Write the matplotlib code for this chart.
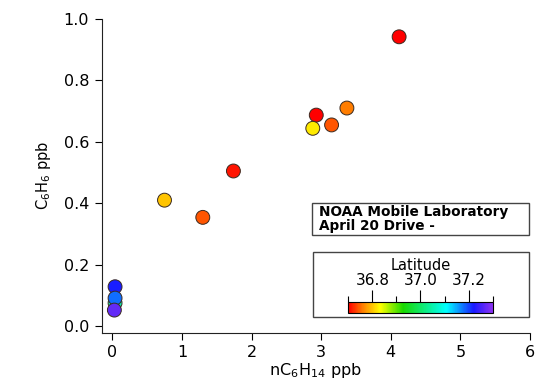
import matplotlib
matplotlib.use("Agg")
import matplotlib.pyplot as plt
from matplotlib.colors import LinearSegmentedColormap, Normalize
from matplotlib.patches import Rectangle
import matplotlib.cm as cm

# hexane vs benzene, coloured by latitude
hexane = [0.04, 0.04, 0.04, 0.03, 0.75, 1.30, 1.74, 2.93, 2.88, 3.15, 3.37, 4.12]
benzene = [0.075, 0.128, 0.091, 0.052, 0.410, 0.354, 0.505, 0.687, 0.644, 0.655, 0.710, 0.942]
latitude = [37.05, 37.22, 37.18, 37.27, 36.80, 36.74, 36.71, 36.70, 36.82, 36.74, 36.76, 36.70]

lat_ticks = [36.8, 37.0, 37.2]
lat_range = (36.7, 37.3)

rainbow = LinearSegmentedColormap.from_list(
    "igor_rainbow",
    [(0.0, (1, 0, 0)), (0.1, (1, 0.5, 0)), (0.22, (1, 1, 0)),
     (0.38, (0.1, 0.85, 0)), (0.68, (0, 1, 1)), (0.87, (0.1, 0.1, 1)),
     (1.0, (0.55, 0.2, 0.95))])
norm = Normalize(*lat_range)

plt.rcParams['font.family'] = ['DejaVu Sans']
fig = plt.figure(figsize=(5.37, 3.83), dpi=100)
W, H = 537, 383

ax = fig.add_axes([101.7 / W, 1 - 332.5 / H, (530 - 101.7) / W, (332.5 - 19) / H])
ax.scatter(hexane, benzene, c=latitude, cmap=rainbow, norm=norm, s=100,
           edgecolors="#3a2a20", linewidths=0.7, zorder=3)
ax.set_xlim(-0.152, 6)
ax.set_ylim(-0.021, 1.0)
ax.set_xticks(range(7))
ax.set_yticks([0, 0.2, 0.4, 0.6, 0.8, 1.0])
ax.set_yticklabels(["0.0", "0.2", "0.4", "0.6", "0.8", "1.0"])
for s in ("top", "right"):
    ax.spines[s].set_visible(False)
for s in ("left", "bottom"):
    ax.spines[s].set_linewidth(0.8)
    ax.spines[s].set_color("#222222")
ax.tick_params(direction="out", length=5, width=0.8, labelsize=11.5, pad=4)
ax.set_xlabel("nC$_6$H$_{14}$ ppb", fontsize=11.5, labelpad=1)
ax.set_ylabel("C$_6$H$_6$ ppb", fontsize=10.5, labelpad=8)

# title box
fig.patches.append(Rectangle((311.7 / W, 1 - 235 / H), (529 - 311.7) / W, (235 - 202.7) / H,
                             transform=fig.transFigure, fill=False, edgecolor="#444444",
                             linewidth=1.0))
fig.text(319 / W, 1 - 218.8 / H, "NOAA Mobile Laboratory\nApril 20 Drive -",
         fontsize=9.8, fontweight="bold", va="center", ha="left", linespacing=0.95)

# colour scale box
fig.patches.append(Rectangle((312.7 / W, 1 - 316.7 / H), (529 - 312.7) / W, (316.7 - 251.7) / H,
                             transform=fig.transFigure, fill=False, edgecolor="#444444",
                             linewidth=1.0))
cax = fig.add_axes([348.3 / W, 1 - 313.3 / H, (492.7 - 348.3) / W, (313.3 - 302.3) / H])
cb = fig.colorbar(cm.ScalarMappable(norm=norm, cmap=rainbow), cax=cax,
                  orientation="horizontal", ticklocation="top")
cb.set_ticks(lat_ticks)
cb.set_ticklabels([f"{t:.1f}" for t in lat_ticks])
cb.ax.set_xticks([36.7, 36.9, 37.1, 37.3], minor=True)
cb.ax.tick_params(which="major", length=9, width=0.8, labelsize=11, pad=1.5)
cb.ax.tick_params(which="minor", length=4, width=0.8)
cb.outline.set_linewidth(0.8)
cb.set_label("Latitude", fontsize=10.5, labelpad=2)

fig.savefig("out.png", dpi=100)
